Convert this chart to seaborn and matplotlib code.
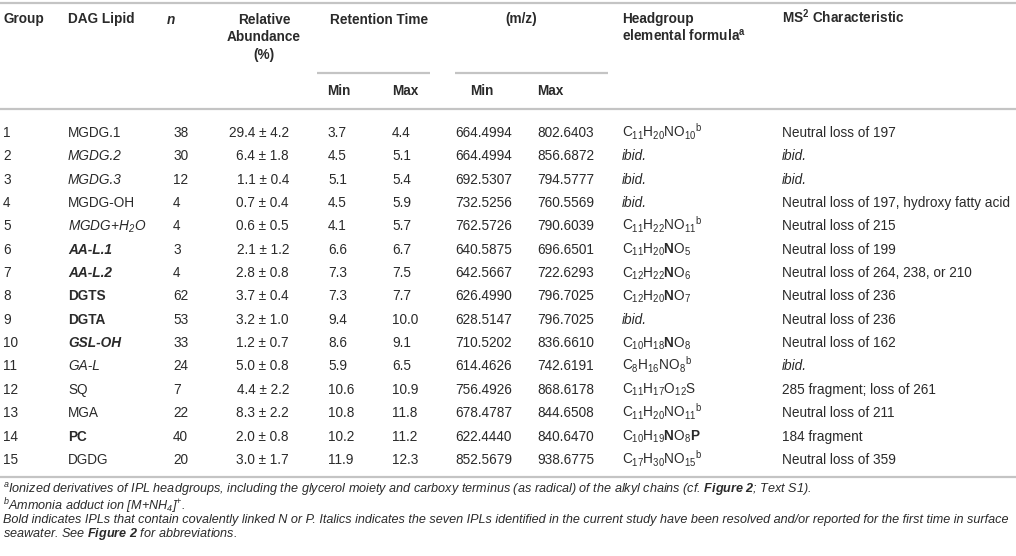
import matplotlib
matplotlib.use("Agg")
import matplotlib.pyplot as plt
import seaborn as sns

# table data
groups = list(range(1, 16))
lipids = ["MGDG.1", "MGDG.2", "MGDG.3", "MGDG-OH", "MGDG+H$_{2}$O", "AA-L.1", "AA-L.2",
          "DGTS", "DGTA", "GSL-OH", "GA-L", "SQ", "MGA", "PC", "DGDG"]
# n = normal, i = italic, b = bold, bi = bold italic
lipid_style = ["n", "i", "i", "n", "i", "bi", "bi", "b", "b", "bi", "i", "n", "n", "b", "n"]
n_vals = [38, 30, 12, 4, 4, 3, 4, 62, 53, 33, 24, 7, 22, 40, 20]
abund_mean = [29.4, 6.4, 1.1, 0.7, 0.6, 2.1, 2.8, 3.7, 3.2, 1.2, 5.0, 4.4, 8.3, 2.0, 3.0]
abund_sd = [4.2, 1.8, 0.4, 0.4, 0.5, 1.2, 0.8, 0.4, 1.0, 0.7, 0.8, 2.2, 2.2, 0.8, 1.7]
rt_min = [3.7, 4.5, 5.1, 4.5, 4.1, 6.6, 7.3, 7.3, 9.4, 8.6, 5.9, 10.6, 10.8, 10.2, 11.9]
rt_max = [4.4, 5.1, 5.4, 5.9, 5.7, 6.7, 7.5, 7.7, 10.0, 9.1, 6.5, 10.9, 11.8, 11.2, 12.3]
mz_min = [664.4994, 664.4994, 692.5307, 732.5256, 762.5726, 640.5875, 642.5667, 626.4990,
          628.5147, 710.5202, 614.4626, 756.4926, 678.4787, 622.4440, 852.5679]
mz_max = [802.6403, 856.6872, 794.5777, 760.5569, 790.6039, 696.6501, 722.6293, 796.7025,
          796.7025, 836.6610, 742.6191, 868.6178, 844.6508, 840.6470, 938.6775]
formulas = [
    "C$_{11}$H$_{20}$NO$_{10}{}^{b}$",
    "ibid.",
    "ibid.",
    "ibid.",
    "C$_{11}$H$_{22}$NO$_{11}{}^{b}$",
    r"C$_{11}$H$_{20}\mathbf{N}$O$_{5}$",
    r"C$_{12}$H$_{22}\mathbf{N}$O$_{6}$",
    r"C$_{12}$H$_{20}\mathbf{N}$O$_{7}$",
    "ibid.",
    r"C$_{10}$H$_{18}\mathbf{N}$O$_{8}$",
    "C$_{8}$H$_{16}$NO$_{8}{}^{b}$",
    "C$_{11}$H$_{17}$O$_{12}$S",
    "C$_{11}$H$_{20}$NO$_{11}{}^{b}$",
    r"C$_{10}$H$_{19}\mathbf{N}$O$_{8}\mathbf{P}$",
    "C$_{17}$H$_{30}$NO$_{15}{}^{b}$",
]
ms2 = ["Neutral loss of 197", "ibid.", "ibid.", "Neutral loss of 197, hydroxy fatty acid",
       "Neutral loss of 215", "Neutral loss of 199", "Neutral loss of 264, 238, or 210",
       "Neutral loss of 236", "Neutral loss of 236", "Neutral loss of 162", "ibid.",
       "285 fragment; loss of 261", "Neutral loss of 211", "184 fragment", "Neutral loss of 359"]
footnotes = [
    r"$^{a}$Ionized derivatives of IPL headgroups, including the glycerol moiety and carboxy "
    r"terminus (as radical) of the alkyl chains (cf. $\mathbfit{Figure\ 2}$; Text S1).",
    r"$^{b}$Ammonia adduct ion [M+NH$_{4}$]$^{+}$.",
    "Bold indicates IPLs that contain covalently linked N or P. Italics indicates the seven IPLs "
    "identified in the current study have been resolved and/or reported for the first time in surface",
    r"seawater. See $\mathbfit{Figure\ 2}$ for abbreviations.",
]
footnote_base = [492.5, 510, 523.5, 537.5]

sns.set_theme(style="white")
plt.rcParams["font.family"] = ["Liberation Sans", "DejaVu Sans"]
plt.rcParams["mathtext.fontset"] = "custom"
plt.rcParams["mathtext.rm"] = "Liberation Sans"
plt.rcParams["mathtext.it"] = "Liberation Sans:italic"
plt.rcParams["mathtext.bf"] = "Liberation Sans:bold"
plt.rcParams["mathtext.bfit"] = "Liberation Sans:italic:bold"
plt.rcParams["mathtext.default"] = "regular"

W, H = 1016, 556
fig = plt.figure(figsize=(W / 100, H / 100), dpi=100)
ax = fig.add_axes([0, 0, 1, 1])
ax.set_xlim(0, W)
ax.set_ylim(H, 0)
ax.axis("off")

txt = "#2a2a2a"
rule = "#c4c4c4"
fs = 9.8

def put(x, y, s, ha="left", weight="normal", style="normal", size=fs, color=txt):
    ax.text(x, y, s, ha=ha, va="baseline", fontsize=size, fontweight=weight,
            fontstyle=style, color=color)

# rules
for y in [3, 109, 477]:
    ax.plot([0, W], [y, y], color=rule, lw=1.6, solid_capstyle="butt")
ax.plot([317, 430], [73, 73], color=rule, lw=1.6, solid_capstyle="butt")
ax.plot([455, 608], [73, 73], color=rule, lw=1.6, solid_capstyle="butt")

# header
hb = 23.5
put(3, hb, "Group", weight="bold")
put(68, hb, "DAG Lipid", weight="bold")
put(167, hb, "n", weight="bold", style="italic")
put(264, hb, "Relative", ha="center", weight="bold")
put(264, hb + 17.5, "Abundance", ha="center", weight="bold")
put(264, hb + 35, "(%)", ha="center", weight="bold")
put(379, hb, "Retention Time", ha="center", weight="bold")
put(505, hb, "(m/z)", weight="bold")
put(622, hb, "Headgroup", weight="bold")
put(622, hb + 17.5, "elemental formula$^{a}$", weight="bold")
put(782, hb, "MS$^{2}$ Characteristic", weight="bold")
sb = 95
put(327, sb, "Min", weight="bold")
put(392, sb, "Max", weight="bold")
put(482, sb, "Min", ha="center", weight="bold")
put(537, sb, "Max", weight="bold")

style_map = {"n": ("normal", "normal"), "i": ("normal", "italic"),
             "b": ("bold", "normal"), "bi": ("bold", "italic")}

for i in range(len(groups)):
    yb = 132 + i * 23.35 + 5
    put(3, yb, str(groups[i]))
    w, s = style_map[lipid_style[i]]
    put(68, yb, lipids[i], weight=w, style=s)
    put(173, yb, str(n_vals[i]))
    put(289, yb, "%.1f \u00b1 %.1f" % (abund_mean[i], abund_sd[i]), ha="right")
    put(328, yb, "%.1f" % rt_min[i])
    put(392, yb, "%.1f" % rt_max[i])
    put(455, yb, "%.4f" % mz_min[i])
    put(537, yb, "%.4f" % mz_max[i])
    f = formulas[i]
    put(622, yb, f, style="italic" if f == "ibid." else "normal")
    m = ms2[i]
    put(782, yb, m, style="italic" if m == "ibid." else "normal")

for note, yb in zip(footnotes, footnote_base):
    put(3, yb, note, style="italic", size=9.1)

fig.savefig("out.png", dpi=100)
